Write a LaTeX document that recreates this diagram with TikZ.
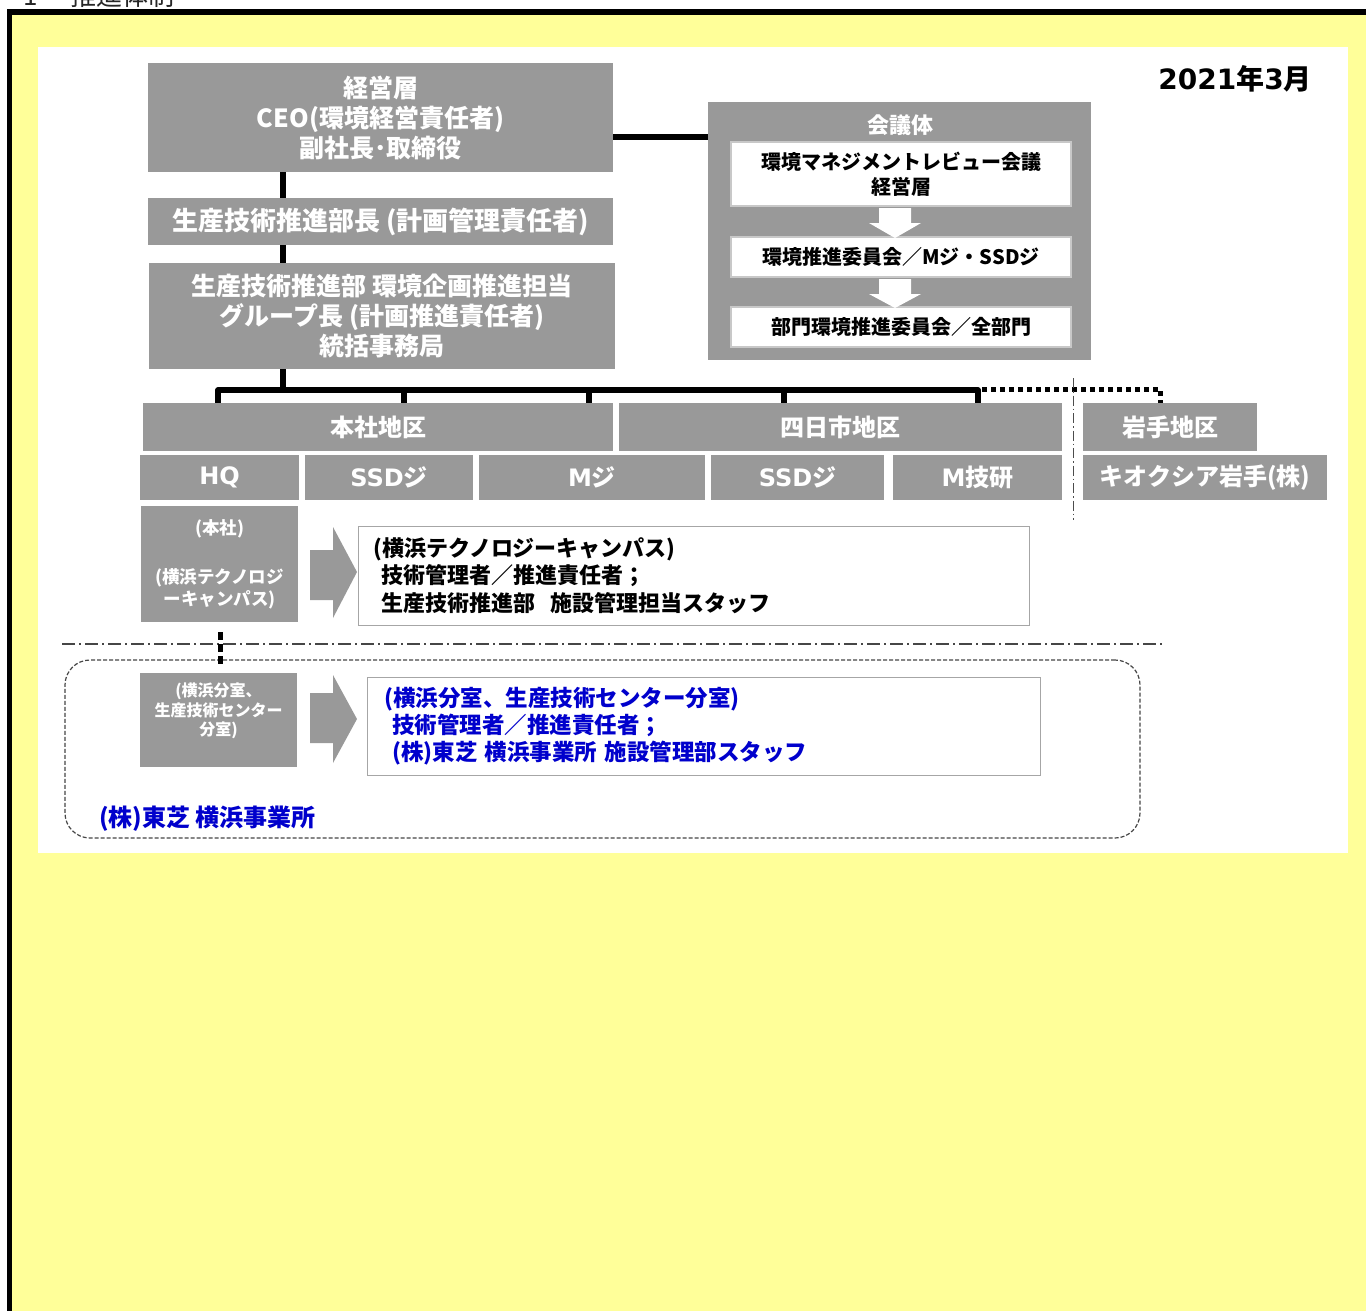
\documentclass[tikz,border=0pt]{standalone}
\usepackage{fontspec}
\setmainfont{Noto Sans CJK JP}
\newfontfamily\dv{DejaVu Sans}
\definecolor{ylw}{RGB}{255,255,153}
\definecolor{gbx}{RGB}{153,153,153}
\definecolor{bluet}{RGB}{0,0,204}
\definecolor{bord}{RGB}{166,166,166}
\definecolor{kbord}{RGB}{200,200,200}
\definecolor{frm}{RGB}{70,70,70}
\newcommand\mybox[7]{\node[#6, minimum width={#4-#2}, minimum height={#5-#3}] (#1) at ({(#2+#4)/2},{(#3+#5)/2}) {#7};}
\begin{document}
\begin{tikzpicture}[x=1pt,y=-1pt,
  gbox/.style={fill=gbx, inner sep=0pt, text=white, align=center},
  wbox/.style={fill=white, draw=bord, line width=1pt, inner sep=0pt, align=left},
  kbox/.style={fill=white, draw=kbord, line width=2.5pt, inner sep=0pt, align=center},
  fb/.style 2 args={font=\fontsize{#1}{#2}\selectfont\bfseries},
  conn/.style={line width=5.5pt, black},
  dotconn/.style={line width=5pt, black, dash pattern=on 5pt off 4pt},
  tx/.style={inner sep=0pt, align=center},
  frame/.style={draw=frm, line width=1.2pt, dash pattern=on 4pt off 2pt, rounded corners=25pt, inner sep=0pt}]
% background
\path[use as bounding box] (0,0) rectangle (1366,1310);
\clip (0,0) rectangle (1366,1310);
\fill[black] (7,9) rectangle (1400,1400);
\fill[ylw] (12,15) rectangle (1400,1400);
\fill[white] (38,47) rectangle (1348,853);
\node[tx, anchor=base west, font=\fontsize{26pt}{30pt}\selectfont, text=black!85] (secnum) at (23,5) {1};
\node[tx, anchor=base west, font=\fontsize{26pt}{30pt}\selectfont, text=black!85] (sectitle) at (70,5) {推進体制};
% date
\node[tx, anchor=base east, fb={28pt}{32pt}] (date) at (1312,89) {{\dv 2021}年{\dv 3}月};
% left hierarchy
\mybox{ceo}{148}{63}{613}{172}{gbox,fb={25pt}{30pt}}{経営層\\CEO(環境経営責任者)\\副社長･取締役}
\mybox{mgr}{148}{198}{613}{245}{gbox,fb={26pt}{30pt}}{生産技術推進部長 (計画管理責任者)}
\mybox{grp}{149}{263}{615}{369}{gbox,fb={25pt}{30pt}}{生産技術推進部 環境企画推進担当\\グループ長 (計画推進責任者)\\統括事務局}
% meeting bodies
\mybox{kaigi}{708}{102}{1091}{360}{gbox}{}
\node[tx, text=white, fb={22pt}{26pt}] (ktitle) at (900,125) {会議体};
\mybox{k1}{731}{142}{1071}{206}{kbox,fb={20pt}{25pt}}{環境マネジメントレビュー会議\\経営層}
\mybox{k2}{731}{237}{1071}{277}{kbox,fb={20pt}{25pt}}{環境推進委員会／Mジ・SSDジ}
\mybox{k3}{731}{307}{1071}{347}{kbox,fb={20pt}{25pt}}{部門環境推進委員会／全部門}
\fill[white] (879,208) -- (911,208) -- (911,223) -- (921,223) -- (895,238) -- (869,223) -- (879,223) -- cycle;
\fill[white] (879,279) -- (911,279) -- (911,294) -- (921,294) -- (895,308) -- (869,294) -- (879,294) -- cycle;
% sites
\mybox{honsha}{143}{403}{613}{451}{gbox,fb={24pt}{28pt}}{本社地区}
\mybox{yokk}{619}{403}{1062}{451}{gbox,fb={24pt}{28pt}}{四日市地区}
\mybox{iwate}{1083}{403}{1257}{451}{gbox,fb={24pt}{28pt}}{岩手地区}
\mybox{hq}{140}{455}{299}{500}{gbox,fb={24pt}{28pt}}{{\dv HQ}}
\mybox{ssda}{305}{455}{473}{500}{gbox,fb={24pt}{28pt}}{{\dv SSD}ジ}
\mybox{mj}{479}{455}{705}{500}{gbox,fb={24pt}{28pt}}{{\dv M}ジ}
\mybox{ssdb}{711}{455}{884}{500}{gbox,fb={24pt}{28pt}}{{\dv SSD}ジ}
\mybox{mgk}{893}{455}{1062}{500}{gbox,fb={24pt}{28pt}}{{\dv M}技研}
\mybox{kioxia}{1083}{455}{1327}{500}{gbox,fb={24pt}{28pt}}{キオクシア岩手(株)}
% HQ detail
\mybox{hqb}{141}{506}{298}{622}{gbox,fb={17.5pt}{22pt}}{(本社)\\[27pt](横浜テクノロジ\\ーキャンパス)}
\fill[gbx] (310,550) -- (333,550) -- (333,527) -- (357,572) -- (333,618) -- (333,600) -- (310,600) -- cycle;
\mybox{tb1}{358}{526}{1029}{625}{wbox,fb={22pt}{27.5pt},text width=640pt}{(横浜テクノロジーキャンパス)\\\hspace*{8pt}技術管理者／推進責任者；\\\hspace*{8pt}生産技術推進部\ \ 施設管理担当スタッフ}
% separator
\draw[frm, line width=1.2pt, dash pattern=on 13pt off 4pt on 2pt off 4pt] (62,644) -- (1165,644);
% Toshiba frame
\mybox{tframe}{65}{660}{1140}{838}{frame}{}
\mybox{bunb}{140}{673}{297}{767}{gbox}{}
\node[tx, text=white, fb={16pt}{19.5pt}] (bunt) at (218.5,711) {(横浜分室、\\生産技術センター\\分室)};
\fill[gbx] (310,693) -- (333,693) -- (333,675) -- (357,719) -- (333,763) -- (333,743) -- (310,743) -- cycle;
\mybox{tb2}{367}{677}{1040}{775}{wbox,fb={22.5pt}{27pt},text width=639pt,text=bluet}{(横浜分室、生産技術センター分室)\\\hspace*{8pt}技術管理者／推進責任者；\\\hspace*{8pt}(株)東芝 横浜事業所 施設管理部スタッフ}
\node[tx, anchor=base west, text=bluet, fb={24pt}{28pt}] (tlabel) at (99,826) {(株)東芝 横浜事業所};
% connectors
\coordinate (spine) at (283,0);
\coordinate (bus) at (0,390);
\coordinate (kl) at (0,137);
\coordinate (d1) at (218,0);
\coordinate (d2) at (404,0);
\coordinate (d3) at (589,0);
\coordinate (d4) at (784,0);
\coordinate (d5) at (978,0);
\coordinate (d6) at (1160,0);
\coordinate (d7) at (220,0);
\coordinate (dotstart) at (982,389);
\draw[conn] (ceo.east |- kl) -- (kaigi.west |- kl);
\draw[conn] (ceo.south -| spine) -- (mgr.north -| spine);
\draw[conn] (mgr.south -| spine) -- (grp.north -| spine);
\draw[conn] (grp.south -| spine) -- (spine |- bus);
\draw[conn, line join=round] (d1 |- honsha.north) -- (d1 |- bus) -- (d5 |- bus) -- (d5 |- yokk.north);
\draw[conn] (d2 |- bus) -- (d2 |- honsha.north);
\draw[conn] (d3 |- bus) -- (d3 |- honsha.north);
\draw[conn] (d4 |- bus) -- (d4 |- yokk.north);
\draw[dotconn] (dotstart) -| (d6 |- iwate.north);
\draw[black!70, line width=1pt, dash pattern=on 10pt off 3pt on 1.5pt off 3pt] (1073,378) -- (1073,520);
\draw[line width=5pt, dash pattern=on 8pt off 4pt, shorten <=10pt, shorten >=5pt] (d7 |- hqb.south) -- (d7 |- bunb.north);
\end{tikzpicture}
\end{document}
